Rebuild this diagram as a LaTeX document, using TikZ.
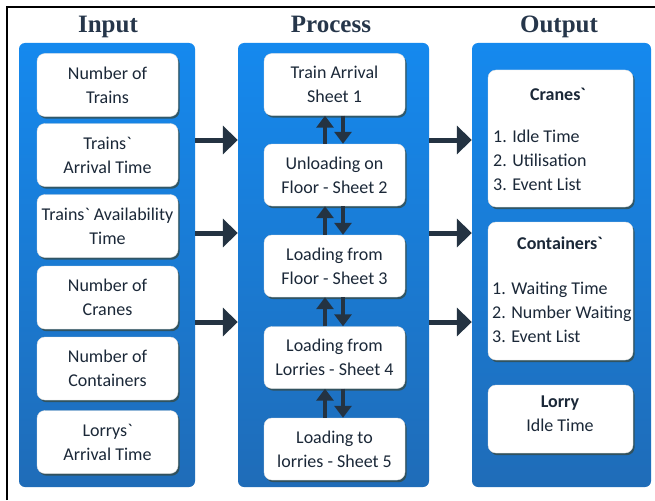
\documentclass[tikz,border=0pt]{standalone}
\usepackage{fontspec}
\setmainfont{Carlito}[Ligatures=TeXOff]
\newfontfamily\titlefont{Liberation Serif}
\usetikzlibrary{arrows.meta,shadows}
\definecolor{txt}{HTML}{1B2838}
\definecolor{ttl}{HTML}{26364A}
\definecolor{arr}{HTML}{243342}
\definecolor{ptop}{HTML}{1589EE}
\definecolor{pbot}{HTML}{1F6CB8}
\definecolor{shd}{HTML}{3A4636}
\newcommand\bq{\symbol{96}}
\tikzset{
  panel/.style={rectangle, rounded corners=6pt, top color=ptop, bottom color=pbot, draw=none, inner sep=0pt},
  wbox/.style={rectangle, rounded corners=8pt, fill=white, draw=black!12, line width=0.4pt,
    drop shadow={shadow xshift=1.6pt, shadow yshift=-2.2pt, fill=shd, opacity=0.7},
    align=center, inner sep=2pt, text=txt},
  ibox/.style={wbox, minimum width=141pt, minimum height=63pt},
  pbox/.style={wbox, minimum width=141pt, minimum height=62pt},
  obox/.style={wbox, minimum width=145pt},
  txtnode/.style={inner sep=0pt, text=txt, align=left},
  coltitle/.style={font=\titlefont\bfseries\fontsize{25}{28}\selectfont, text=ttl, inner sep=0pt, anchor=base},
  harrow/.style={draw=arr, line width=5pt, -{Triangle[width=28pt,length=15pt]}},
  varrow/.style={draw=arr, line width=4pt, -{Triangle[width=17pt,length=12pt]}}
}
\begin{document}
\begin{tikzpicture}[x=1pt,y=-1pt,font=\fontsize{18}{24}\selectfont]
\useasboundingbox (0,0) rectangle (655,500);
\fill[white] (0,0) rectangle (655,500);
% frame
\coordinate (fb) at (7,500);
\coordinate (ftl) at (7,7);
\coordinate (fr) at (655,7);
\draw[line width=2pt,black] (fb) -- (ftl) -- (fr);

% titles
\node[coltitle] (tin) at (108,33) {Input};
\node[coltitle] (tpr) at (331,33) {Process};
\node[coltitle] (tout) at (559,33) {Output};

% panels
\node[panel, minimum width=176pt, minimum height=444pt] (inpanel) at (107,265) {};
\node[panel, minimum width=191pt, minimum height=444pt] (prpanel) at (333.5,265) {};
\node[panel, minimum width=179pt, minimum height=444pt] (outpanel) at (561.5,265) {};

% input boxes
\node[ibox] (i1) at (107.5,85) {Number of\\Trains};
\node[ibox] (i2) at (107.5,155) {Trains\bq\\Arrival Time};
\node[ibox] (i3) at (107.5,226) {Trains\bq{} Availability\\Time};
\node[ibox] (i4) at (107.5,297.5) {Number of\\Cranes};
\node[ibox] (i5) at (107.5,368.5) {Number of\\Containers};
\node[ibox] (i6) at (107.5,442) {Lorrys\bq\\Arrival Time};

% process boxes
\node[pbox] (p1) at (334.5,84.5) {Train Arrival\\Sheet 1};
\node[pbox] (p2) at (334.5,175) {Unloading on\\Floor - Sheet 2};
\node[pbox] (p3) at (334.5,266) {Loading from\\Floor - Sheet 3};
\node[pbox] (p4) at (334.5,357.5) {Loading from\\Lorries - Sheet 4};
\node[pbox] (p5) at (334.5,449) {Loading to\\lorries - Sheet 5};

% output boxes
\node[obox, minimum height=137pt] (o1) at (560.5,138.5) {};
\node[obox, minimum height=138pt] (o2) at (560.5,291) {};
\node[obox, minimum height=68pt] (o3) at (560.5,419) {};

\node[txtnode] (o1h) at (558,94) {\bfseries Cranes\bq};
\node[txtnode, anchor=west] (o1l) at (493,160) {1. Idle Time\\2. Utilisation\\3. Event List};
\node[txtnode] (o2h) at (560,243) {\bfseries Containers\bq};
\node[txtnode, anchor=west] (o2l) at (492,312) {1. Waiting Time\\2. Number Waiting\\3. Event List};
\node[txtnode, align=center] (o3t) at (560,414) {\bfseries Lorry\\Idle Time};

% horizontal arrows
\coordinate (h1) at (0,140);
\coordinate (h2) at (0,233);
\coordinate (h3) at (0,322);
\foreach \h in {h1,h2,h3}{
  \draw[harrow] (inpanel.east |- \h) -- (prpanel.west |- \h);
  \draw[harrow] (prpanel.east |- \h) -- (outpanel.west |- \h);
}

% vertical arrows
\foreach \a/\b in {p1/p2,p2/p3,p3/p4,p4/p5}{
  \draw[varrow] ([xshift=-9.5pt]\b.north) -- ([xshift=-9.5pt]\a.south);
  \draw[varrow] ([xshift=8.5pt]\a.south) -- ([xshift=8.5pt]\b.north);
}
\end{tikzpicture}
\end{document}
